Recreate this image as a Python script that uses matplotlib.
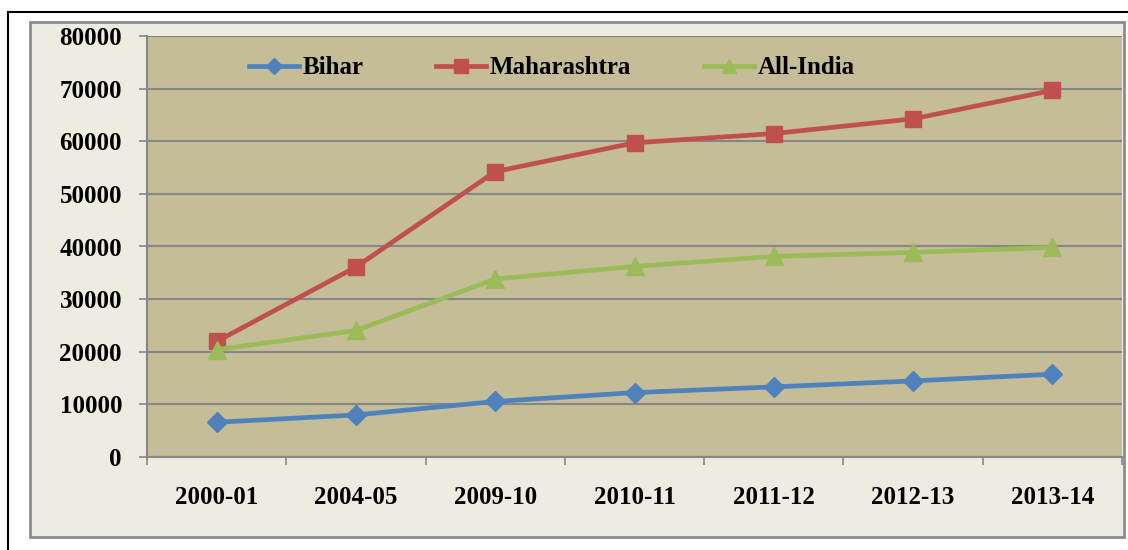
import matplotlib
matplotlib.use('Agg')
import matplotlib.pyplot as plt
from matplotlib.patches import Rectangle
from matplotlib.lines import Line2D

years = ['2000-01', '2004-05', '2009-10', '2010-11', '2011-12', '2012-13', '2013-14']
bihar = [6600, 7990, 10550, 12240, 13320, 14460, 15730]
maharashtra = [21950, 36100, 54230, 59700, 61460, 64260, 69650]
all_india = [20400, 24040, 33820, 36210, 38110, 38880, 39830]
yticks = [0, 10000, 20000, 30000, 40000, 50000, 60000, 70000, 80000]

plt.rcParams['font.family'] = ['Liberation Serif', 'DejaVu Serif']
plt.rcParams['font.weight'] = 'bold'

fig = plt.figure(figsize=(11.28, 5.5), dpi=100)
fig.patch.set_facecolor('white')

# chart area box
fig.patches.append(Rectangle((30 / 1128, 1 - 537 / 550), 1094 / 1128, 515 / 550,
                             transform=fig.transFigure, facecolor='#EEECE1',
                             edgecolor='#8C8C8C', linewidth=2, zorder=-5))
# outer page lines
fig.lines.append(Line2D([8 / 1128, 1], [1 - 12 / 550, 1 - 12 / 550], transform=fig.transFigure,
                        color='black', linewidth=1.5, zorder=-5))
fig.lines.append(Line2D([8 / 1128, 8 / 1128], [0, 1 - 12 / 550], transform=fig.transFigure,
                        color='black', linewidth=1.5, zorder=-5))

ax = fig.add_axes([147 / 1128, 1 - 457 / 550, 975 / 1128, 421 / 550])
ax.set_zorder(2)
ax.set_facecolor('#C4BD97')

x = list(range(len(years)))
ax.plot(x, bihar, color='#4F81BD', lw=3.4, marker='D', ms=10, label='Bihar', zorder=3)
ax.plot(x, maharashtra, color='#C0504D', lw=3.4, marker='s', ms=12, label='Maharashtra', zorder=3)
ax.plot(x, all_india, color='#9BBB59', lw=3.4, marker='^', ms=13, label='All-India', zorder=3)

ax.set_xlim(-0.5, len(years) - 0.5)
ax.set_ylim(0, 80000)
ax.set_yticks(yticks)
ax.set_yticklabels([str(v) for v in yticks], fontsize=18, fontweight='bold')
ax.set_xticks(x)
ax.set_xticklabels(years, fontsize=18, fontweight='bold')
ax.set_xticks([i - 0.5 for i in range(len(years) + 1)], minor=True)
ax.tick_params(axis='x', which='major', length=0, pad=21)
ax.tick_params(axis='x', which='minor', length=6, color='#868686', width=1.2)
ax.tick_params(axis='y', length=6, color='#868686', width=1.2, pad=12)

ax.grid(axis='y', color='#868686', linewidth=1.5)
ax.set_axisbelow(True)
for s in ['top', 'right']:
    ax.spines[s].set_visible(False)
for s in ['left', 'bottom']:
    ax.spines[s].set_color('#868686')
    ax.spines[s].set_linewidth(1.5)

ax.legend(loc='center', bbox_to_anchor=(0.415, 0.924), ncol=3, frameon=False,
          prop={'size': 18, 'weight': 'bold'}, handlelength=2.0, handletextpad=0.15,
          columnspacing=2.9, markerscale=0.8)

fig.savefig('out.png', dpi=100)
